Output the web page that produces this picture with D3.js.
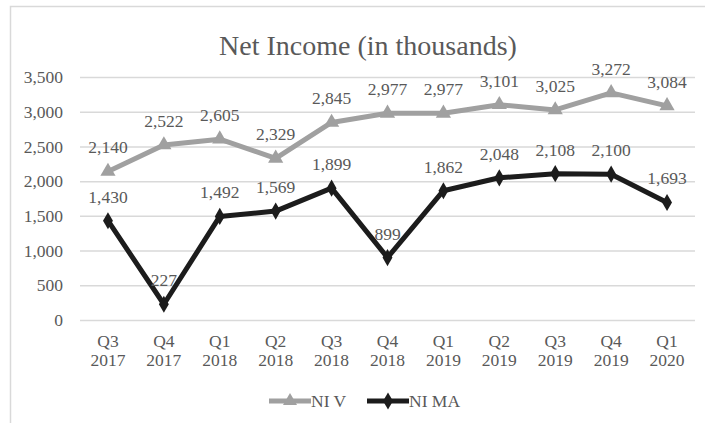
<!DOCTYPE html>
<html>
<head>
<meta charset="utf-8">
<script src="https://cdn.jsdelivr.net/npm/d3@7"></script>
<style>
body { margin: 0; background: #fff; }
text { font-family: "Liberation Serif", "Times New Roman", serif; fill: #595959; }
</style>
</head>
<body>
<svg id="chart" width="705" height="423"></svg>
<script>
var quarters = ["Q3", "Q4", "Q1", "Q2", "Q3", "Q4", "Q1", "Q2", "Q3", "Q4", "Q1"];
var years = ["2017", "2017", "2018", "2018", "2018", "2018", "2019", "2019", "2019", "2019", "2020"];
var niV = [2140, 2522, 2605, 2329, 2845, 2977, 2977, 3101, 3025, 3272, 3084];
var niMA = [1430, 227, 1492, 1569, 1899, 899, 1862, 2048, 2108, 2100, 1693];
var yTicks = [0, 500, 1000, 1500, 2000, 2500, 3000, 3500];

var svg = d3.select("#chart");
var margin = {left: 80, right: 10, top: 77, bottom: 103};
var width = 705 - margin.left - margin.right;
var height = 423 - margin.top - margin.bottom;
var fs = "17.5px";

// outer chart border
svg.append("rect")
	.attr("x", 10.5).attr("y", 6.5)
	.attr("width", 705).attr("height", 430)
	.attr("fill", "none")
	.attr("stroke", "#d9d9d9")
	.attr("stroke-width", 1.5);

svg.append("text")
	.attr("x", 368).attr("y", 55)
	.attr("text-anchor", "middle")
	.attr("font-size", "28px")
	.text("Net Income (in thousands)");

var g = svg.append("g").attr("transform", "translate(" + margin.left + "," + margin.top + ")");

var idx = d3.range(quarters.length);
var x = d3.scaleBand().domain(idx).range([0, width]);
var y = d3.scaleLinear().domain([0, 3500]).range([height, 0]);
var cx = function(i) { return x(i) + x.bandwidth() / 2; };

/* GRID + Y AXIS */
var yAxis = d3.axisLeft(y).tickValues(yTicks).tickSize(-width).tickFormat(d3.format(","));
g.append("g").call(yAxis)
	.call(function(a) {
		a.select(".domain").remove();
		a.selectAll("line").attr("stroke", "#d9d9d9").attr("stroke-width", 1.5);
		a.selectAll("text").attr("x", -17).attr("font-size", fs).attr("fill", "#595959");
	});

/* X LABELS */
var xl = g.append("g").attr("transform", "translate(0," + height + ")");
idx.forEach(function(i) {
	xl.append("text")
		.attr("x", cx(i)).attr("y", 27)
		.attr("text-anchor", "middle")
		.attr("font-size", fs)
		.text(quarters[i]);
	xl.append("text")
		.attr("x", cx(i)).attr("y", 46)
		.attr("text-anchor", "middle")
		.attr("font-size", fs)
		.text(years[i]);
});

function drawSeries(values, color, symbol, size) {
	var line = d3.line().x(function(d, i) { return cx(i); }).y(function(d) { return y(d); });
	g.append("path")
		.datum(values)
		.attr("d", line)
		.attr("fill", "none")
		.attr("stroke", color)
		.attr("stroke-width", 5)
		.attr("stroke-linejoin", "round");
	g.selectAll(null)
		.data(values)
		.enter()
		.append("path")
		.attr("d", d3.symbol().type(symbol).size(size))
		.attr("transform", function(d, i) { return "translate(" + cx(i) + "," + y(d) + ")"; })
		.attr("fill", color);
	g.selectAll(null)
		.data(values)
		.enter()
		.append("text")
		.attr("x", function(d, i) { return cx(i); })
		.attr("y", function(d) { return y(d) - 18; })
		.attr("text-anchor", "middle")
		.attr("font-size", fs)
		.text(function(d) { return d3.format(",")(d); });
}

drawSeries(niV, "#a0a0a0", d3.symbolTriangle, 100);
drawSeries(niMA, "#1c1c1c", d3.symbolDiamond, 85);

/* LEGEND */
var legend = [
	{name: "NI V", color: "#a0a0a0", symbol: d3.symbolTriangle, x: 269},
	{name: "NI MA", color: "#1c1c1c", symbol: d3.symbolDiamond, x: 367}
];
legend.forEach(function(l) {
	var lg = svg.append("g").attr("transform", "translate(" + l.x + ",401)");
	lg.append("line").attr("x1", 0).attr("x2", 42)
		.attr("stroke", l.color).attr("stroke-width", 5);
	lg.append("path").attr("d", d3.symbol().type(l.symbol).size(85)())
		.attr("transform", "translate(21,0)").attr("fill", l.color);
	lg.append("text").attr("x", 42).attr("y", 6).attr("font-size", fs).text(l.name);
});
</script>
</body>
</html>
